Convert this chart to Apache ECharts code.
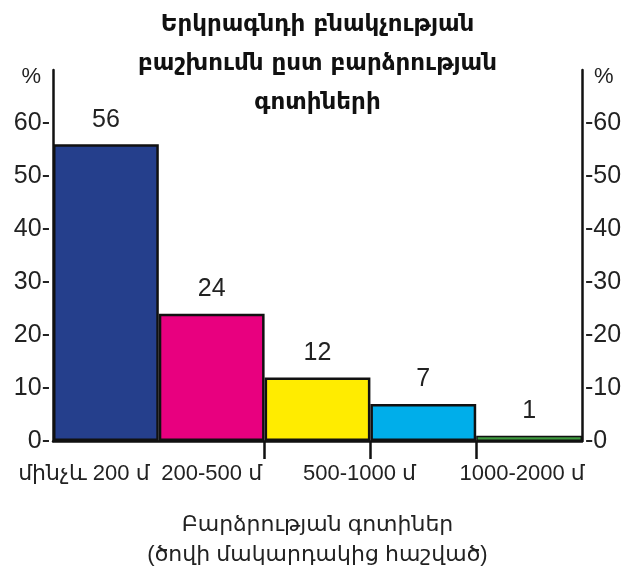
<!DOCTYPE html>
<html>
<head>
<meta charset="utf-8">
<script src="https://cdn.jsdelivr.net/npm/echarts@6/dist/echarts.min.js"></script>
<style>
html,body{margin:0;padding:0;background:#fff;}
#c{width:635px;height:571px;}
</style>
</head>
<body>
<div id="c"></div>
<script>
const titleText = "Երկրագնդի բնակչության\nբաշխումն ըստ բարձրության\nգոտիների";
const categories = ["մինչև 200 մ", "200-500 մ", "500-1000 մ", "", "1000-2000 մ"];
const values = [56, 24, 12, 7, 1];
const barColors = ["#253f8c", "#e8007f", "#ffec00", "#00aeea", "#3e9a3f"];
const yTicks = [0, 10, 20, 30, 40, 50, 60];
const boundaryTicks = [2, 3, 4];
const xAxisName = "Բարձրության գոտիներ\n(ծովի մակարդակից հաշված)";

const FONT = "'Liberation Sans', 'DejaVu Sans', sans-serif";
const labelShift = [[0, 44, 0, 0], [0, 0, 0, 0], [0, 0, 0, 84], [0, 0, 0, 0], [0, 14, 0, 0]];
const borderWidths = [2.5, 2.5, 2.5, 2.5, 1.5];

const chart = echarts.init(document.getElementById('c'));
const yLabelFmt = side => v => yTicks.indexOf(v) < 0 ? '' : (side === 'left' ? v + '-' : '-' + v);

chart.setOption({
  animation: false,
  backgroundColor: '#fff',
  title: {
    text: titleText,
    left: 'center',
    top: 1,
    textStyle: {
      fontFamily: "'DejaVu Sans', sans-serif",
      fontWeight: 'bold',
      fontSize: 23,
      lineHeight: 39,
      color: '#111'
    }
  },
  grid: { left: 53, right: 53, top: 70, bottom: 130, containLabel: false, outerBoundsMode: 'none' },
  xAxis: [
    {
      type: 'category',
      data: categories.map((c, i) => ({ value: c, textStyle: { padding: labelShift[i] } })),
      axisLine: { lineStyle: { color: '#111', width: 2.5 } },
      axisTick: { show: false },
      axisLabel: {
        interval: 0,
        margin: 22,
        fontFamily: FONT,
        fontSize: 22,
        color: '#222'
      },
      name: xAxisName,
      nameLocation: 'middle',
      nameGap: 69,
      nameTextStyle: { fontFamily: FONT, fontSize: 22, lineHeight: 30, color: '#222' }
    },
    {
      type: 'value', min: 0, max: categories.length, position: 'bottom',
      axisLine: { show: false },
      axisLabel: { show: false },
      splitLine: { show: false },
      axisTick: { show: true, customValues: boundaryTicks, length: 18, lineStyle: { color: '#111', width: 2.5 } }
    }
  ],
  yAxis: [
    {
      type: 'value', min: 0, max: 70, interval: 10, position: 'left',
      axisLine: { show: true, lineStyle: { color: '#111', width: 2.5 } },
      axisTick: { show: false },
      splitLine: { show: false },
      axisLabel: { formatter: yLabelFmt('left'), margin: 3, fontFamily: FONT, fontSize: 25, color: '#222' },
      name: '%', nameLocation: 'end', nameGap: -18,
      nameTextStyle: { fontFamily: FONT, fontSize: 22, color: '#222', align: 'right', padding: [0, 12, 0, 0] }
    },
    {
      type: 'value', min: 0, max: 70, interval: 10, position: 'right',
      axisLine: { show: true, lineStyle: { color: '#111', width: 2.5 } },
      axisTick: { show: false },
      splitLine: { show: false },
      axisLabel: { formatter: yLabelFmt('right'), margin: 3, fontFamily: FONT, fontSize: 25, color: '#222' },
      name: '%', nameLocation: 'end', nameGap: -18,
      nameTextStyle: { fontFamily: FONT, fontSize: 22, color: '#222', align: 'left', padding: [0, 0, 0, 12] }
    }
  ],
  series: [{
    type: 'bar',
    xAxisIndex: 0,
    yAxisIndex: 0,
    barCategoryGap: 0,
    data: values.map((v, i) => ({ value: v, itemStyle: { color: barColors[i], borderWidth: borderWidths[i] } })),
    itemStyle: { borderColor: '#111' },
    label: {
      show: true, position: 'top', distance: 12,
      fontFamily: FONT, fontSize: 25, color: '#222'
    }
  }]
});
</script>
</body>
</html>
